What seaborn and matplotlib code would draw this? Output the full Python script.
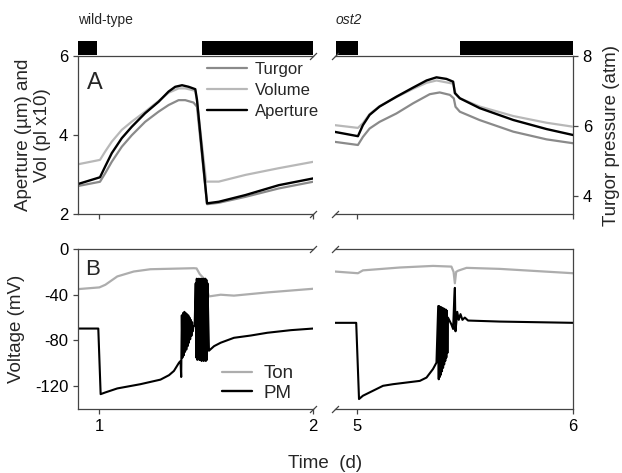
import numpy as np
import pandas as pd
import matplotlib
matplotlib.use("Agg")
import matplotlib.pyplot as plt
import seaborn as sns

sns.set_style("ticks")
plt.rcParams['font.family'] = ['Liberation Sans', 'DejaVu Sans']
plt.rcParams['axes.unicode_minus'] = False

# ---------------- data ----------------
# Panel A, wild-type
wt_ap_t = [0.901, 1.003, 1.027, 1.058, 1.105, 1.152, 1.214, 1.277, 1.324, 1.355, 1.387, 1.418, 1.449, 1.457, 1.504, 1.559, 1.684, 1.840, 2.0]
wt_ap_v = [2.76, 2.93, 3.20, 3.54, 3.92, 4.21, 4.55, 4.84, 5.10, 5.22, 5.26, 5.22, 5.16, 4.89, 2.27, 2.31, 2.48, 2.73, 2.90]
wt_vol_t = [0.901, 1.003, 1.027, 1.058, 1.105, 1.152, 1.214, 1.277, 1.324, 1.371, 1.402, 1.449, 1.457, 1.500, 1.559, 1.684, 1.840, 2.0]
wt_vol_v = [3.26, 3.37, 3.58, 3.83, 4.13, 4.34, 4.59, 4.86, 5.07, 5.18, 5.18, 5.12, 4.85, 2.82, 2.82, 2.99, 3.16, 3.32]
wt_tur_t = [0.901, 1.003, 1.027, 1.058, 1.105, 1.152, 1.214, 1.277, 1.324, 1.371, 1.402, 1.441, 1.457, 1.504, 1.559, 1.684, 1.840, 2.0]
wt_tur_v = [4.29, 4.41, 4.65, 4.98, 5.41, 5.74, 6.12, 6.41, 6.60, 6.74, 6.74, 6.67, 6.55, 3.77, 3.81, 3.98, 4.22, 4.41]

# Panel A, ost2
os_ap_t = [4.898, 5.006, 5.029, 5.060, 5.106, 5.184, 5.261, 5.323, 5.369, 5.415, 5.446, 5.454, 5.477, 5.569, 5.724, 5.878, 6.0]
os_ap_v = [4.08, 3.97, 4.25, 4.51, 4.72, 4.97, 5.20, 5.38, 5.46, 5.42, 5.35, 5.06, 4.93, 4.68, 4.38, 4.15, 4.00]
os_vol_t = [4.898, 5.006, 5.029, 5.060, 5.106, 5.184, 5.261, 5.323, 5.369, 5.446, 5.457, 5.477, 5.569, 5.724, 5.878, 6.0]
os_vol_v = [4.25, 4.18, 4.30, 4.53, 4.73, 4.96, 5.17, 5.32, 5.38, 5.30, 5.06, 4.93, 4.72, 4.48, 4.31, 4.21]
os_tur_t = [4.898, 5.006, 5.029, 5.060, 5.106, 5.184, 5.261, 5.338, 5.384, 5.431, 5.449, 5.457, 5.477, 5.569, 5.724, 5.878, 6.0]
os_tur_v = [5.55, 5.46, 5.69, 5.93, 6.12, 6.36, 6.65, 6.91, 6.96, 6.89, 6.79, 6.55, 6.41, 6.17, 5.84, 5.62, 5.51]

# Panel B, wild-type
wt_ton_t = [0.90, 1.00, 1.028, 1.084, 1.161, 1.239, 1.443, 1.455, 1.470, 1.490, 1.513, 1.568, 1.63, 1.786, 2.0]
wt_ton_v = [-35.1, -33.6, -31.3, -24.0, -19.7, -17.7, -16.8, -17.0, -22.0, -26.0, -41.5, -40.0, -40.8, -38.0, -34.8]
wt_pm_t = [0.90, 0.995, 1.006, 1.028, 1.084, 1.192, 1.286, 1.326, 1.349, 1.373,
           1.380, 1.383, 1.386, 1.389, 1.392, 1.395, 1.398, 1.401, 1.404, 1.407, 1.410,
           1.413, 1.416, 1.419, 1.422, 1.425, 1.428, 1.431, 1.434, 1.437, 1.440, 1.446,
           1.451, 1.4535, 1.456, 1.4585, 1.461, 1.4635, 1.466, 1.4685, 1.471, 1.4735, 1.476,
           1.4785, 1.481, 1.4835, 1.486, 1.4885, 1.491, 1.4935, 1.496, 1.4985, 1.501, 1.5035, 1.506,
           1.513, 1.537, 1.568, 1.63, 1.709, 1.786, 1.897, 2.0]
wt_pm_v = [-69.6, -69.6, -127.0, -125.5, -122.0, -118.3, -114.3, -110.4, -106.7, -99.4,
           -98, -112, -58, -95, -56, -93, -55, -90, -56, -88, -57,
           -85, -58, -82, -60, -79, -62, -76, -64, -72, -68, -67,
           -30, -95, -26, -97, -27, -96, -26, -97, -27, -97, -26,
           -98, -27, -97, -26, -98, -27, -97, -26, -98, -27, -97, -30,
           -89.0, -85.0, -82.0, -77.7, -75.7, -73.3, -71.0, -69.6]

# Panel B, ost2
os_ton_t = [4.898, 5.006, 5.029, 5.199, 5.353, 5.438, 5.448, 5.454, 5.460, 5.469, 5.508, 5.662, 6.0]
os_ton_v = [-19.7, -21.2, -18.7, -16.2, -14.8, -15.4, -20.0, -30.0, -20.0, -19.0, -16.5, -17.4, -21.2]
os_pm_t = [4.898, 4.998, 5.011, 5.029, 5.076, 5.122, 5.168, 5.292, 5.323, 5.353, 5.369,
           5.377, 5.3795, 5.382, 5.3845, 5.387, 5.3895, 5.392, 5.3945, 5.397, 5.3995, 5.402,
           5.4045, 5.407, 5.4095, 5.412, 5.4145, 5.417, 5.4195, 5.422,
           5.438, 5.446, 5.451, 5.454, 5.457, 5.465, 5.472, 5.480, 5.489, 5.500, 5.515, 5.662, 6.0]
os_pm_v = [-64.6, -64.6, -131.3, -128.4, -124.0, -119.7, -118.3, -115.4, -112.5, -105.0, -99.4,
           -50, -114, -50, -112, -51, -110, -51, -107, -52, -104, -52,
           -101, -53, -98, -53, -95, -54, -91, -60,
           -66, -70, -44, -34, -72, -55, -62, -57, -62, -60, -62.6, -63.5, -64.6]

nights_wt = [(0.90, 0.99), (1.479, 2.0)]
nights_os = [(4.903, 5.005), (5.477, 6.0)]

# ---------------- figure ----------------
W, H = 622, 473
fig = plt.figure(figsize=(W / 100, H / 100), dpi=100)

def box(x0, x1, y0, y1):
    return [x0 / W, 1 - y1 / H, (x1 - x0) / W, (y1 - y0) / H]

ax_tl = fig.add_axes(box(78, 313, 56, 214))
ax_tr = fig.add_axes(box(335, 573, 56, 214))
ax_bl = fig.add_axes(box(78, 313, 249, 409))
ax_br = fig.add_axes(box(335, 573, 249, 409))
bar_l = fig.add_axes(box(78, 313, 41, 55))
bar_r = fig.add_axes(box(335, 573, 41, 55))

C_TUR = '#8a8a8a'
C_VOL = '#b8b8b8'
C_AP = '#000000'
C_TON = '#adadad'
SPINE = '#444444'
TICK_FS = 12
LAB_FS = 13.5

def line(ax, t, v, color, lw, label=None):
    df = pd.DataFrame({'t': t, 'v': v})
    sns.lineplot(data=df, x='t', y='v', ax=ax, color=color, lw=lw,
                 estimator=None, sort=False, label=label, legend=False)

# top panels
ax_tl_t = ax_tl.twinx()
ax_tr_t = ax_tr.twinx()
line(ax_tl, wt_vol_t, wt_vol_v, C_VOL, 1.6)
line(ax_tl_t, wt_tur_t, wt_tur_v, C_TUR, 1.6)
line(ax_tl, wt_ap_t, wt_ap_v, C_AP, 1.7)
line(ax_tr, os_vol_t, os_vol_v, C_VOL, 1.6)
line(ax_tr_t, os_tur_t, os_tur_v, C_TUR, 1.6)
line(ax_tr, os_ap_t, os_ap_v, C_AP, 1.7)
ax_tl.set_zorder(ax_tl_t.get_zorder() + 1); ax_tl.patch.set_visible(False)
ax_tr.set_zorder(ax_tr_t.get_zorder() + 1); ax_tr.patch.set_visible(False)

# bottom panels
line(ax_bl, wt_ton_t, wt_ton_v, C_TON, 1.6)
line(ax_bl, wt_pm_t, wt_pm_v, C_AP, 1.5)
line(ax_br, os_ton_t, os_ton_v, C_TON, 1.6)
line(ax_br, os_pm_t, os_pm_v, C_AP, 1.5)

for ax in (ax_tl, ax_tr):
    ax.set_ylim(2, 6)
for ax in (ax_tl_t, ax_tr_t):
    ax.set_ylim(3.49, 8)
for ax in (ax_bl, ax_br):
    ax.set_ylim(-140, 0)
for ax in (ax_tl, ax_bl, bar_l):
    ax.set_xlim(0.9, 2.0)
for ax in (ax_tr, ax_br, bar_r):
    ax.set_xlim(4.9, 6.0)

for ax in (ax_tl, ax_tr, ax_tl_t, ax_tr_t, ax_bl, ax_br):
    ax.set_xlabel('')
    ax.set_ylabel('')
    for s in ax.spines.values():
        s.set_color(SPINE)
        s.set_linewidth(0.9)
    ax.tick_params(colors=SPINE, labelcolor='black', labelsize=TICK_FS,
                   length=3.5, width=0.9, direction='out')

for ax in (ax_tl, ax_bl):
    ax.spines['right'].set_visible(False)
    ax.spines['top'].set_visible(True)
    ax.set_xticks([1, 2])
for ax in (ax_tr, ax_br):
    ax.spines['left'].set_visible(False)
    ax.spines['top'].set_visible(True)
    ax.tick_params(axis='y', left=False, labelleft=False)
    ax.set_xticks([5, 6])
for ax in (ax_tl, ax_tr):
    ax.tick_params(axis='x', labelbottom=False)
ax_tr.spines['right'].set_visible(False)
ax_br.spines['right'].set_visible(True)
ax_tl.set_yticks([2, 4, 6])
ax_bl.set_yticks([0, -40, -80, -120])

ax_tl_t.set_axis_off()
ax_tr_t.set_yticks([4, 6, 8])
for s in ('left', 'top', 'bottom'):
    ax_tr_t.spines[s].set_visible(False)

# break marks
mk = dict(marker=[(-1, -1), (1, 1)], markersize=5, linestyle='none',
          color=SPINE, mec=SPINE, mew=0.9, clip_on=False)
for ax in (ax_tl, ax_bl):
    ax.plot([1, 1], [0, 1], transform=ax.transAxes, **mk)
for ax in (ax_tr, ax_br):
    ax.plot([0, 0], [0, 1], transform=ax.transAxes, **mk)

# night bars
for bax, nights in ((bar_l, nights_wt), (bar_r, nights_os)):
    for a, b in nights:
        bax.axvspan(a, b, color='black', lw=0)
    bax.set_ylim(0, 1)
    bax.set_axis_off()

# labels
ax_tl.set_ylabel('Aperture (\u00b5m) and\nVol (pl x10)', fontsize=LAB_FS, linespacing=1.15)
ax_tl.yaxis.set_label_coords(-0.115, 0.5)
ax_bl.set_ylabel('Voltage (mV)', fontsize=LAB_FS)
ax_bl.yaxis.set_label_coords(-0.225, 0.5)
ax_tr_t.set_ylabel('Turgor pressure (atm)', fontsize=LAB_FS)
ax_tr_t.yaxis.set_label_coords(1.125, 0.5)
ax_bl.set_xlabel('Time  (d)', fontsize=LAB_FS)
ax_bl.xaxis.set_label_coords((325 - 78) / 235, -0.29)

fig.text(78 / W, 1 - 20 / H, 'wild-type', fontsize=10, ha='left', va='center')
fig.text(336 / W, 1 - 20 / H, 'ost2', fontsize=10, style='italic', ha='left', va='center')
ax_tl.text(0.04, 0.83, 'A', transform=ax_tl.transAxes, fontsize=17, ha='left', va='center')
ax_bl.text(0.03, 0.87, 'B', transform=ax_bl.transAxes, fontsize=16, ha='left', va='center')

# legends
h_tur = plt.Line2D([], [], color=C_TUR, lw=1.6)
h_vol = plt.Line2D([], [], color=C_VOL, lw=1.6)
h_ap = plt.Line2D([], [], color=C_AP, lw=1.7)
fig.legend([h_tur, h_vol, h_ap], ['Turgor', 'Volume', 'Aperture'], loc='upper left',
           bbox_to_anchor=(207 / W, 1 - 62 / H), frameon=False, fontsize=12,
           handlelength=2.4, handletextpad=0.45, labelspacing=0.35, borderpad=0, borderaxespad=0)
h_ton = plt.Line2D([], [], color=C_TON, lw=1.6)
h_pm = plt.Line2D([], [], color=C_AP, lw=1.7)
fig.legend([h_ton, h_pm], ['Ton', 'PM'], loc='upper left',
           bbox_to_anchor=(222 / W, 1 - 365 / H), frameon=False, fontsize=13.5,
           handlelength=1.6, handletextpad=0.6, labelspacing=0.12, borderpad=0, borderaxespad=0)

fig.savefig('out.png', dpi=100)
